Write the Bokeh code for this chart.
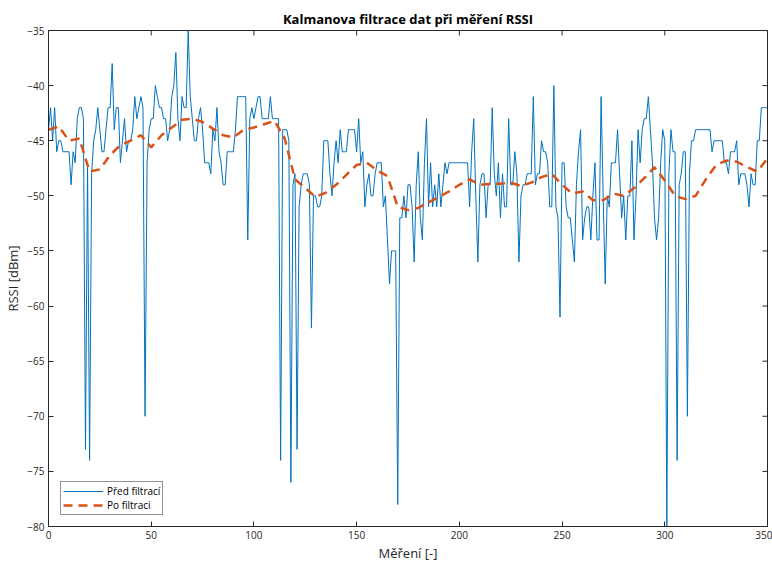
import math

from bokeh.plotting import figure
from bokeh.models import Range1d, FixedTicker, Legend, LegendItem
from bokeh.embed import file_html
from bokeh.resources import INLINE

# Raw RSSI samples (dBm), one per measurement index 0..350
rssi_raw = [
    -44, -42, -45, -42, -46, -45, -45, -46, -46, -46,
    -46, -49, -46, -47, -43, -42, -42, -43, -73, -47,
    -74, -48, -45, -44, -42, -44, -46, -46, -44, -42,
    -42, -38, -44, -42, -42, -47, -45, -43, -46, -45,
    -45, -44, -41, -43, -42, -41, -42, -70, -47, -44,
    -43, -43, -40, -41, -42, -42, -43, -43, -45, -44,
    -41, -40, -37, -43, -45, -41, -42, -42, -35, -41,
    -43, -45, -45, -43, -42, -44, -47, -47, -47, -48,
    -44, -45, -42, -46, -47, -49, -49, -46, -46, -46,
    -46, -44, -41, -41, -41, -41, -41, -54, -43, -42,
    -43, -42, -41, -41, -43, -43, -43, -43, -41, -43,
    -43, -43, -43, -74, -44, -44, -44, -45, -76, -49,
    -48, -73, -51, -49, -48, -48, -48, -49, -62, -50,
    -50, -51, -51, -50, -45, -45, -45, -48, -50, -47,
    -45, -47, -44, -46, -46, -46, -44, -44, -44, -44,
    -46, -43, -47, -46, -51, -49, -48, -50, -50, -48,
    -47, -47, -47, -51, -50, -54, -58, -55, -55, -55,
    -78, -52, -52, -50, -52, -49, -49, -51, -56, -49,
    -46, -52, -54, -47, -43, -51, -47, -51, -49, -51,
    -48, -51, -49, -47, -48, -47, -47, -47, -47, -47,
    -47, -47, -47, -47, -47, -51, -46, -43, -50, -56,
    -49, -48, -48, -52, -49, -49, -42, -48, -50, -47,
    -52, -48, -51, -51, -43, -49, -49, -46, -48, -56,
    -50, -49, -49, -48, -48, -48, -41, -49, -48, -48,
    -45, -46, -46, -47, -51, -51, -40, -51, -52, -61,
    -47, -47, -51, -52, -52, -54, -56, -49, -46, -44,
    -54, -52, -51, -51, -54, -50, -47, -54, -54, -41,
    -50, -58, -50, -51, -47, -47, -47, -44, -48, -52,
    -50, -54, -50, -50, -45, -54, -50, -44, -47, -44,
    -43, -43, -41, -44, -47, -52, -54, -52, -47, -44,
    -45, -80, -48, -44, -46, -46, -74, -49, -48, -46,
    -46, -70, -48, -45, -45, -44, -44, -44, -44, -44,
    -44, -44, -44, -46, -45, -45, -45, -45, -45, -47,
    -47, -48, -46, -46, -46, -45, -49, -48, -48, -48,
    -49, -51, -48, -49, -49, -45, -45, -42, -42, -42,
    -42,
]
x_raw = list(range(len(rssi_raw)))

# Kalman-filtered estimate, sampled every 5 measurements
x_filt = list(range(0, 351, 5))
rssi_filt = [
    -44.0, -43.7, -45.0, -44.8, -47.8, -47.6, -46.3, -45.4, -45.0, -44.5,
    -45.6, -44.5, -43.8, -43.1, -43.0, -43.3, -43.9, -44.5, -44.7, -44.0,
    -43.8, -43.5, -43.2, -44.8, -48.5, -49.3, -50.1, -49.7, -49.0, -48.1,
    -47.2, -47.0, -47.7, -48.2, -51.0, -51.3, -51.1, -50.6, -50.1, -49.6,
    -49.0, -48.5, -49.0, -48.9, -48.9, -48.8, -49.1, -48.8, -48.3, -48.0,
    -49.0, -49.8, -49.6, -50.4, -50.4, -49.8, -50.0, -49.3, -48.4, -47.4,
    -48.6, -50.0, -50.3, -50.0, -48.5, -47.2, -46.8, -46.9, -47.4, -47.8,
    -46.6,
]

x_ticks = [0, 50, 100, 150, 200, 250, 300, 350]
y_ticks = [-80, -75, -70, -65, -60, -55, -50, -45, -40, -35]
X_MIN, X_MAX = 0, 350
Y_MIN, Y_MAX = -80, -35

FONT = "Open Sans"
AXIS_COLOR = "#262626"

p = figure(
    width=772, height=564,
    output_backend="svg", toolbar_location=None,
    x_range=Range1d(X_MIN, X_MAX), y_range=Range1d(Y_MIN, Y_MAX),
    min_border_left=48, min_border_right=5,
    min_border_top=30, min_border_bottom=37,
    title="Kalmanova filtrace dat při měření RSSI",
)
p.title.align = "center"
p.title.text_font = FONT
p.title.text_font_size = "13px"
p.title.text_font_style = "bold"
p.title.text_color = "#000000"
p.title.standoff = 6

p.xgrid.visible = False
p.ygrid.visible = False
p.outline_line_color = AXIS_COLOR
p.outline_line_width = 1
p.background_fill_color = "white"

for ax in (p.xaxis[0], p.yaxis[0]):
    ax.major_tick_in = 5
    ax.major_tick_out = 0
    ax.minor_tick_in = 0
    ax.minor_tick_out = 0
    ax.axis_line_color = AXIS_COLOR
    ax.major_tick_line_color = AXIS_COLOR
    ax.major_label_text_font = FONT
    ax.major_label_text_font_size = "10px"
    ax.major_label_text_color = AXIS_COLOR
    ax.axis_label_text_font = FONT
    ax.axis_label_text_font_size = "13px"
    ax.axis_label_text_font_style = "normal"
    ax.axis_label_text_color = AXIS_COLOR

p.xaxis[0].ticker = FixedTicker(ticks=x_ticks)
p.yaxis[0].ticker = FixedTicker(ticks=y_ticks)
p.xaxis[0].axis_label = "Měření [-]"
p.yaxis[0].axis_label = "RSSI [dBm]"
p.xaxis[0].major_label_standoff = 4
p.xaxis[0].axis_label_standoff = 2
p.yaxis[0].major_label_standoff = 4
p.yaxis[0].axis_label_standoff = 2

# inward ticks on the top and right edges of the box (half of each dash is
# clipped away by the frame, leaving a 5 px tick inside)
p.scatter(x_ticks, [Y_MAX] * len(x_ticks), marker="dash", size=10,
          angle=math.pi / 2, line_color=AXIS_COLOR, line_width=1)
p.scatter([X_MAX] * len(y_ticks), y_ticks, marker="dash", size=10,
          line_color=AXIS_COLOR, line_width=1)

r_raw = p.line(x_raw, rssi_raw, line_color="#0072BD", line_width=1)
r_filt = p.line(x_filt, rssi_filt, line_color="#D95319", line_width=2.5,
                line_dash="9 6")

legend = Legend(
    items=[
        LegendItem(label="Před filtrací", renderers=[r_raw]),
        LegendItem(label="Po filtraci", renderers=[r_filt]),
    ],
    location=(12, 11),
    orientation="vertical",
)
legend.label_text_font = FONT
legend.label_text_font_size = "10px"
legend.label_text_color = "#000000"
legend.glyph_width = 40
legend.glyph_height = 12
legend.label_height = 12
legend.label_standoff = 4
legend.spacing = 0
legend.padding = 2
legend.margin = 0
legend.border_line_color = AXIS_COLOR
legend.border_line_width = 1
legend.background_fill_color = "white"
legend.background_fill_alpha = 1
p.add_layout(legend)

open("out.html", "w").write(file_html(p, INLINE))
